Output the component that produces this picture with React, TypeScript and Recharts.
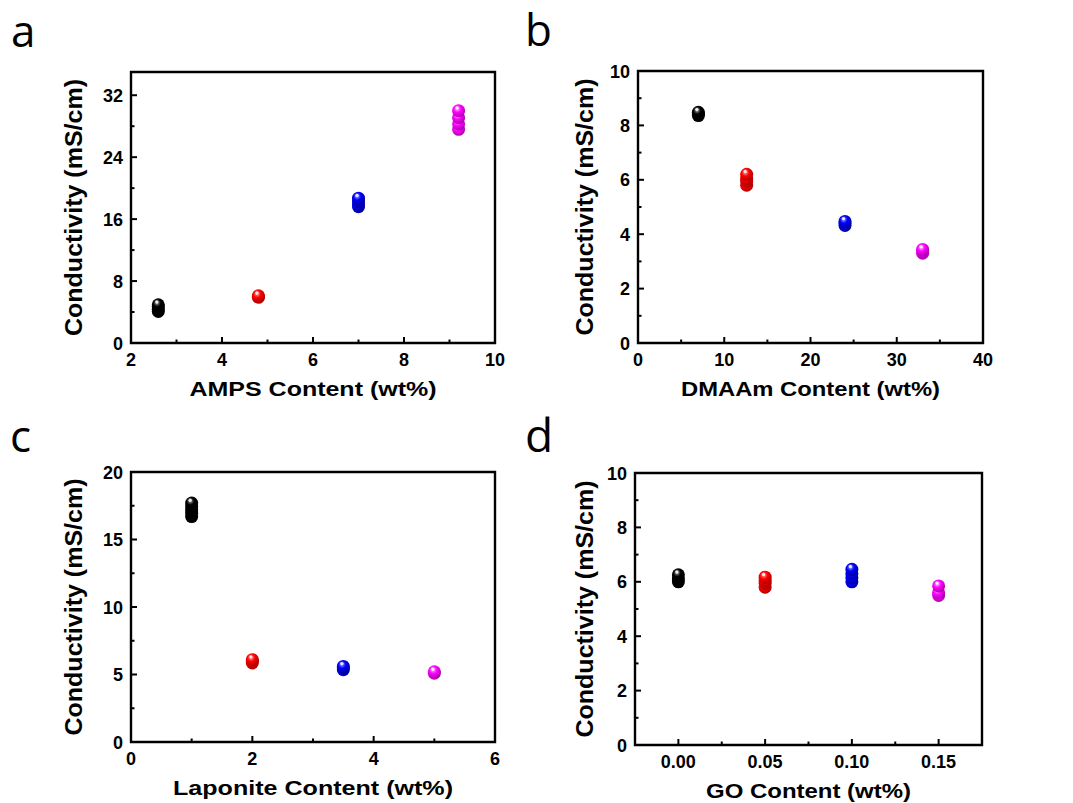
import { ScatterChart, Scatter, XAxis, YAxis, ReferenceArea } from 'recharts'

const COLORS = ['#000000', '#ff0000', '#0000ff', '#ff00ff']
const LIGHT = ['#a0a0a0', '#ffa0a0', '#a0a0ff', '#ffb8ff']
const DARK = ['#000000', '#b00000', '#0000a0', '#b000b0']

// a) AMPS
const AMPS_X = [2.6, 4.8, 7.0, 9.2]
const AMPS_Y = [
  [4.07, 4.35, 4.7, 4.93],
  [5.9, 6.0, 6.1],
  [17.6, 17.9, 18.3, 18.7],
  [27.6, 28.3, 29.1, 30.0],
]
const AMPS_XTICKS = [2, 3, 4, 5, 6, 7, 8, 9, 10]
const AMPS_XMAJOR = [2, 4, 6, 8, 10]
const AMPS_YTICKS = [0, 4, 8, 12, 16, 20, 24, 28, 32]
const AMPS_YMAJOR = [0, 8, 16, 24, 32]

// b) DMAAm
const DMAAM_X = [7, 12.6, 24, 33]
const DMAAM_Y = [
  [8.36, 8.42, 8.48],
  [5.8, 5.95, 6.05, 6.2],
  [4.32, 4.4, 4.47],
  [3.3, 3.37, 3.44],
]
const DMAAM_XTICKS = [0, 5, 10, 15, 20, 25, 30, 35, 40]
const DMAAM_XMAJOR = [0, 10, 20, 30, 40]
const DMAAM_YTICKS = [0, 1, 2, 3, 4, 5, 6, 7, 8, 9, 10]
const DMAAM_YMAJOR = [0, 2, 4, 6, 8, 10]

// c) Laponite
const LAPO_X = [1, 2, 3.5, 5]
const LAPO_Y = [
  [16.7, 16.95, 17.2, 17.45, 17.7],
  [5.85, 6.0, 6.1],
  [5.35, 5.5, 5.6],
  [5.1, 5.2],
]
const LAPO_XTICKS = [0, 1, 2, 3, 4, 5, 6]
const LAPO_XMAJOR = [0, 2, 4, 6]
const LAPO_YTICKS = [0, 2.5, 5, 7.5, 10, 12.5, 15, 17.5, 20]
const LAPO_YMAJOR = [0, 5, 10, 15, 20]

// d) GO
const GO_X = [0, 0.05, 0.1, 0.15]
const GO_Y = [
  [6.0, 6.1, 6.26],
  [5.8, 5.95, 6.05, 6.17],
  [6.0, 6.15, 6.3, 6.46],
  [5.5, 5.6, 5.85],
]
const GO_XTICKS = [0, 0.025, 0.05, 0.075, 0.1, 0.125, 0.15]
const GO_XMAJOR = [0, 0.05, 0.1, 0.15]
const GO_YTICKS = [0, 1, 2, 3, 4, 5, 6, 7, 8, 9, 10]
const GO_YMAJOR = [0, 2, 4, 6, 8, 10]

const FONT = '"Liberation Sans", Arial, sans-serif'

const toGroups = (xs: number[], ys: number[][]) =>
  ys.map((g, i) => g.map(y => ({ x: xs[i], y })))

const isMajor = (v: number, majors: number[]) => majors.some(m => Math.abs(m - v) < 1e-9)

function Ball(props: any) {
  const { cx, cy, idx } = props
  if (cx == null || cy == null) return null
  return (
    <g>
      <circle cx={cx} cy={cy} r={6.5} fill={`url(#ball-${idx})`} />
      <circle cx={cx - 1.5} cy={cy - 2.8} r={1.7} fill="#fff" opacity={0.85} />
    </g>
  )
}

function XTick(props: any) {
  const { x, y, payload, majors, fmt } = props
  const major = isMajor(payload.value, majors)
  return (
    <g>
      <line x1={x} x2={x} y1={y} y2={y - (major ? 6 : 3.5)} stroke="#000" strokeWidth={2} />
      {major && (
        <text x={x} y={y + 23} textAnchor="middle" fontSize={18} fontWeight="bold" fontFamily={FONT} fill="#000">
          {fmt(payload.value)}
        </text>
      )}
    </g>
  )
}

function YTick(props: any) {
  const { x, y, payload, majors } = props
  const major = isMajor(payload.value, majors)
  return (
    <g>
      <line x1={x} x2={x + (major ? 6 : 3.5)} y1={y} y2={y} stroke="#000" strokeWidth={2} />
      {major && (
        <text x={x - 8} y={y + 6.5} textAnchor="end" fontSize={18} fontWeight="bold" fontFamily={FONT} fill="#000">
          {payload.value}
        </text>
      )}
    </g>
  )
}

interface PanelProps {
  left: number
  top: number
  width: number
  height: number
  plot: { top: number; left: number; right: number; bottom: number }
  xs: number[]
  ys: number[][]
  xDomain: [number, number]
  yDomain: [number, number]
  xTicks: number[]
  xMajor: number[]
  yTicks: number[]
  yMajor: number[]
  xFmt?: (v: number) => string
  xTitle: string
  xTitleLen: number
  yTitleX: number
  letter: string
  letterX: number
  letterY: number
  letterSize: number
}

function Panel(p: PanelProps) {
  const groups = toGroups(p.xs, p.ys)
  const plotMidX = (p.plot.left + p.plot.right) / 2
  const plotMidY = (p.plot.top + p.plot.bottom) / 2
  const fmt = p.xFmt ?? ((v: number) => String(v))
  return (
    <div style={{ position: 'absolute', left: p.left, top: p.top, width: p.width, height: p.height }}>
      <ScatterChart
        width={p.width}
        height={p.height}
        margin={{ top: p.plot.top, left: 0, right: p.width - p.plot.right, bottom: 0 }}
      >
        <XAxis
          type="number"
          dataKey="x"
          domain={p.xDomain}
          allowDataOverflow
          ticks={p.xTicks}
          interval={0}
          height={p.height - p.plot.bottom}
          axisLine={false}
          tickLine={false}
          tickSize={0}
          tickMargin={0}
          tick={(t: any) => <XTick {...t} majors={p.xMajor} fmt={fmt} />}
        />
        <YAxis
          type="number"
          dataKey="y"
          domain={p.yDomain}
          allowDataOverflow
          ticks={p.yTicks}
          interval={0}
          width={p.plot.left}
          axisLine={false}
          tickLine={false}
          tickSize={0}
          tickMargin={0}
          tick={(t: any) => <YTick {...t} majors={p.yMajor} />}
        />
        <ReferenceArea
          x1={p.xDomain[0]}
          x2={p.xDomain[1]}
          y1={p.yDomain[0]}
          y2={p.yDomain[1]}
          fill="none"
          fillOpacity={0}
          stroke="#000"
          strokeWidth={2.4}
        />
        {groups.map((g, i) => (
          <Scatter
            key={i}
            data={g}
            fill={COLORS[i]}
            isAnimationActive={false}
            shape={(s: any) => <Ball {...s} idx={i} />}
          />
        ))}
      </ScatterChart>
      <svg
        width={p.width}
        height={p.height}
        style={{ position: 'absolute', left: 0, top: 0, pointerEvents: 'none' }}
      >
        <text x={p.letterX} y={p.letterY} fontSize={p.letterSize} fontFamily='"Open Sans", sans-serif' fill="#000">
          {p.letter}
        </text>
        <text
          x={plotMidX}
          y={p.plot.bottom + 53}
          textAnchor="middle"
          fontSize={20}
          fontWeight="bold"
          fontFamily={FONT}
          textLength={p.xTitleLen}
          lengthAdjust="spacingAndGlyphs"
        >
          {p.xTitle}
        </text>
        <text
          x={p.yTitleX}
          y={plotMidY}
          transform={`rotate(-90 ${p.yTitleX} ${plotMidY})`}
          textAnchor="middle"
          fontSize={24}
          fontWeight="bold"
          fontFamily={FONT}
          textLength={257}
          lengthAdjust="spacingAndGlyphs"
        >
          Conductivity (mS/cm)
        </text>
      </svg>
    </div>
  )
}

export default function App() {
  return (
    <div style={{ position: 'absolute', left: 0, top: 0, width: 1073, height: 803, background: '#fff', overflow: 'hidden' }}>
      <svg width={0} height={0} style={{ position: 'absolute' }}>
        <defs>
          {COLORS.map((c, i) => (
            <radialGradient key={i} id={`ball-${i}`} cx="40%" cy="35%" r="65%">
              <stop offset="0%" stopColor={LIGHT[i]} />
              <stop offset="45%" stopColor={c} />
              <stop offset="100%" stopColor={DARK[i]} />
            </radialGradient>
          ))}
        </defs>
      </svg>
      <Panel
        left={0}
        top={0}
        width={520}
        height={400}
        plot={{ top: 72, left: 131, right: 495, bottom: 343 }}
        xs={AMPS_X}
        ys={AMPS_Y}
        xDomain={[2, 10]}
        yDomain={[0, 35]}
        xTicks={AMPS_XTICKS}
        xMajor={AMPS_XMAJOR}
        yTicks={AMPS_YTICKS}
        yMajor={AMPS_YMAJOR}
        xTitle="AMPS Content (wt%)"
        xTitleLen={247}
        yTitleX={82}
        letter="a"
        letterX={11}
        letterY={47}
        letterSize={44}
      />
      <Panel
        left={520}
        top={0}
        width={553}
        height={400}
        plot={{ top: 71, left: 118, right: 463, bottom: 343 }}
        xs={DMAAM_X}
        ys={DMAAM_Y}
        xDomain={[0, 40]}
        yDomain={[0, 10]}
        xTicks={DMAAM_XTICKS}
        xMajor={DMAAM_XMAJOR}
        yTicks={DMAAM_YTICKS}
        yMajor={DMAAM_YMAJOR}
        xTitle="DMAAm Content (wt%)"
        xTitleLen={259}
        yTitleX={73}
        letter="b"
        letterX={5}
        letterY={46}
        letterSize={44}
      />
      <Panel
        left={0}
        top={400}
        width={520}
        height={403}
        plot={{ top: 72, left: 131, right: 495, bottom: 342 }}
        xs={LAPO_X}
        ys={LAPO_Y}
        xDomain={[0, 6]}
        yDomain={[0, 20]}
        xTicks={LAPO_XTICKS}
        xMajor={LAPO_XMAJOR}
        yTicks={LAPO_YTICKS}
        yMajor={LAPO_YMAJOR}
        xTitle="Laponite Content (wt%)"
        xTitleLen={280}
        yTitleX={82}
        letter="c"
        letterX={10}
        letterY={52}
        letterSize={44}
      />
      <Panel
        left={520}
        top={400}
        width={553}
        height={403}
        plot={{ top: 73, left: 115, right: 462, bottom: 345 }}
        xs={GO_X}
        ys={GO_Y}
        xDomain={[-0.025, 0.175]}
        yDomain={[0, 10]}
        xTicks={GO_XTICKS}
        xMajor={GO_XMAJOR}
        yTicks={GO_YTICKS}
        yMajor={GO_YMAJOR}
        xFmt={v => v.toFixed(2)}
        xTitle="GO Content (wt%)"
        xTitleLen={205}
        yTitleX={73}
        letter="d"
        letterX={5}
        letterY={52}
        letterSize={46}
      />
    </div>
  )
}
